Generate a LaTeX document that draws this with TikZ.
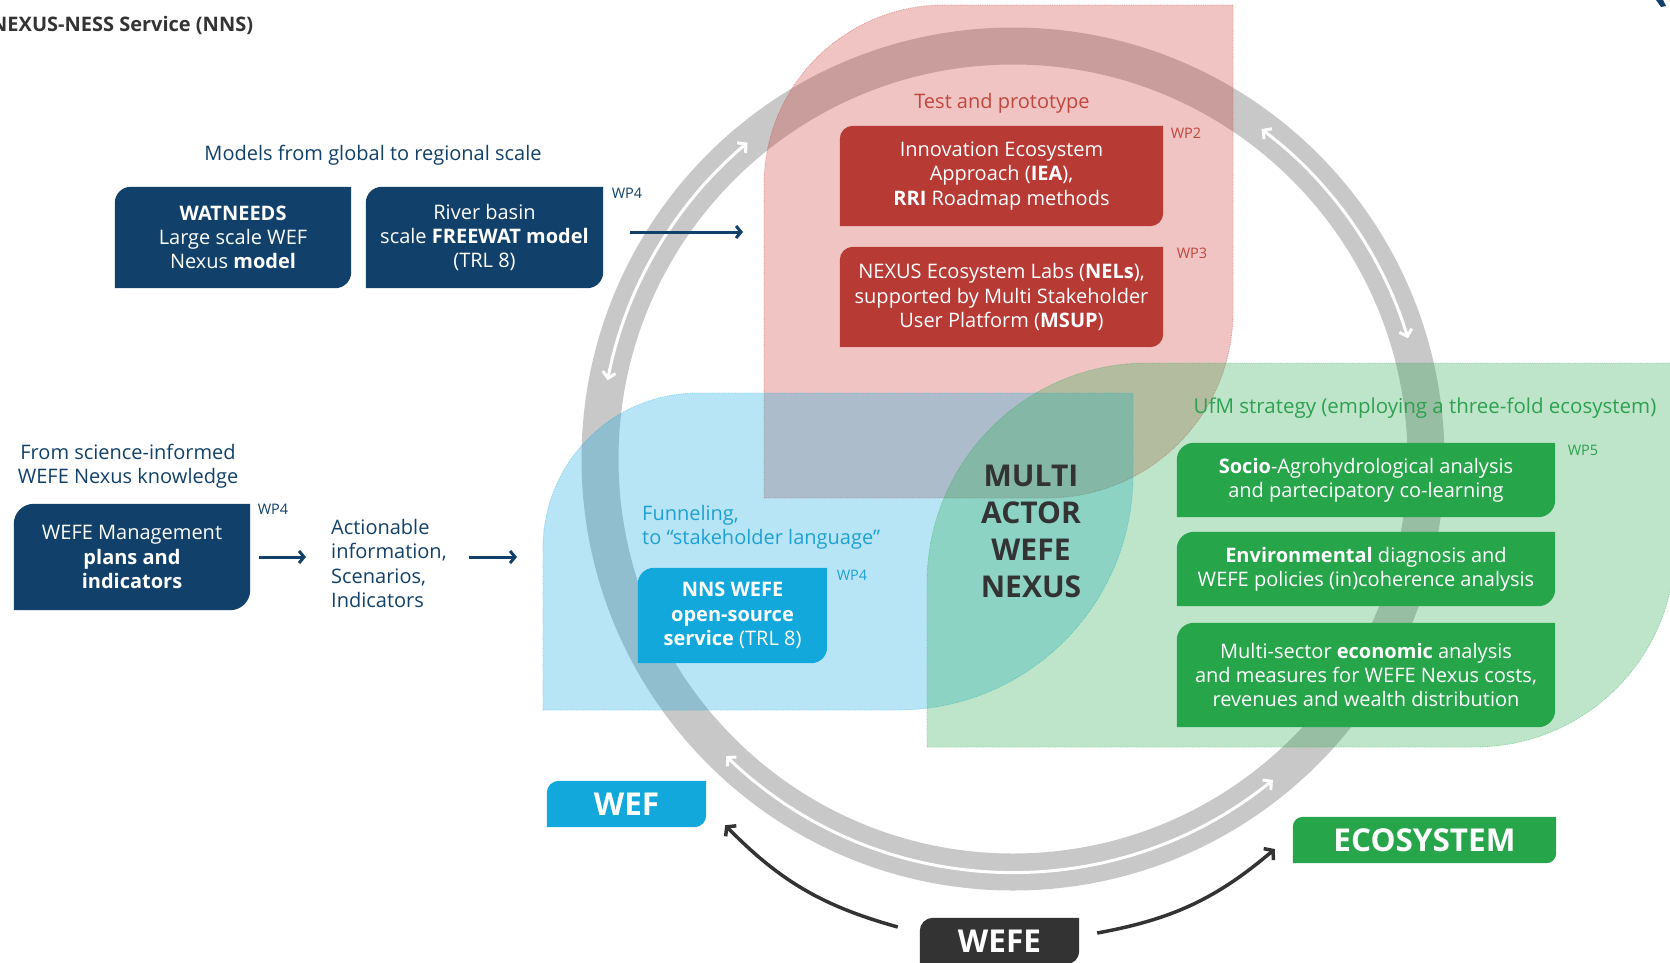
\documentclass[tikz,border=0pt]{standalone}
\usepackage{fontspec}
\setmainfont{Open Sans}
\usepackage{xcolor}
\usetikzlibrary{arrows.meta}

\definecolor{navy}{RGB}{17,65,106}
\definecolor{darkgray}{RGB}{51,51,51}
\definecolor{ringgray}{RGB}{200,200,200}
\definecolor{boxred}{RGB}{183,58,52}
\definecolor{redtext}{RGB}{192,70,62}
\definecolor{cyanbox}{RGB}{18,168,220}
\definecolor{cyantext}{RGB}{30,160,210}
\definecolor{greenbox}{RGB}{39,165,74}
\definecolor{greentext}{RGB}{46,160,80}
\definecolor{redzone}{RGB}{205,60,55}
\definecolor{bluezone}{RGB}{20,170,225}
\definecolor{greenzone}{RGB}{40,170,80}

\pgfdeclarelayer{back}
\pgfdeclarelayer{boxes}
\pgfsetlayers{back,boxes,main}

% fill behind a node, rounded top left and bottom right
\newcommand\leafbox[3]{%
  \begin{pgfonlayer}{boxes}
    \fill[#2] ([yshift=-#3pt]#1.north west) arc[start angle=180, end angle=90, radius=#3]
      -- (#1.north east) -- ([yshift=#3pt]#1.south east)
      arc[start angle=0, end angle=-90, radius=#3] -- (#1.south west) -- cycle;
  \end{pgfonlayer}}

\begin{document}
\begin{tikzpicture}[
        x=1pt, y=1pt,
        lbl/.style={font=\fontsize{20}{24.5}\selectfont, inner sep=0pt, align=center},
        boxtext/.style={text=white, font=\fontsize{20}{24.2}\selectfont, inner sep=0pt, align=center,
            execute at begin node={\rule{0pt}{20pt}}},
        wp/.style={font=\fontsize{14.5}{16}\selectfont, inner sep=0pt},
        tag/.style={text=white, font=\fontsize{31.5}{36}\selectfont\bfseries, inner sep=0pt},
        region/.style={fill=#1, fill opacity=0.3, draw=#1, draw opacity=0.45,
            densely dotted, line width=0.8pt},
        ringband/.style={draw=ringgray, line width=37pt},
        ringarrow/.style={white, line width=3pt,
            {Straight Barb[length=6pt,width=13pt]}-{Straight Barb[length=6pt,width=13pt]}},
        navyarrow/.style={navy, line width=3pt, -{Straight Barb[length=5pt,width=12pt]}},
        darkarrow/.style={darkgray, line width=3.5pt, -{Straight Barb[length=6pt,width=15pt]}},
    ]
    \useasboundingbox (0,0) rectangle (1670,-962);

    % ring and the three zones
    \coordinate (hub) at (1013,-459);
    \begin{pgfonlayer}{back}
    \draw[ringband] (hub) circle[radius=413];
    \foreach \a/\b in {130/169, 17/53, 226/309}
        \draw[ringarrow] ([shift={(\a:413)}]hub) arc[start angle=\a, end angle=\b, radius=413];
    \path[region=redzone] (764,-498) -- (764,-185) arc[start angle=180, end angle=90, radius=180]
        -- (1233,-5) -- (1233,-312) arc[start angle=0, end angle=-90, radius=186] -- cycle;
    \path[region=bluezone] (543,-710) -- (543,-548) arc[start angle=180, end angle=90, radius=155]
        -- (1133,-393) -- (1133,-475) arc[start angle=0, end angle=-90, radius=235] -- cycle;
    \path[region=greenzone] (927,-747) -- (927,-583) arc[start angle=180, end angle=90, radius=220]
        -- (1675,-363) -- (1675,-547) arc[start angle=0, end angle=-90, radius=200] -- cycle;
    \end{pgfonlayer}

    % title
    \node[anchor=west, inner sep=0pt, text=darkgray, font=\fontsize{20}{24}\selectfont\bfseries]
        (title) at (-9,-25) {NEXUS-NESS Service (NNS)};
    \fill[navy] (1656,0) -- (1663,0) -- (1666,-6) -- (1661,-7) -- cycle;

    % models
    \node[lbl, text=navy] (models) at (373,-155) {Models from global to regional scale};
    \node[boxtext, minimum width=236pt, minimum height=101pt] (watneeds) at (233,-237.5)
        {\textbf{WATNEEDS}\\Large scale WEF\\Nexus \textbf{model}};
    \leafbox{watneeds}{navy}{16}
    \node[boxtext, minimum width=237pt, minimum height=101pt] (river) at (484.5,-237.5)
        {River basin\\scale \textbf{FREEWAT model}\\(TRL 8)};
    \leafbox{river}{navy}{16}
    \node[wp, text=navy] (wpriver) at (627,-193) {WP4};
    \coordinate (riverend) at (743,-232);
    \draw[navyarrow] ([xshift=27pt,yshift=5.5pt]river.east) -- (riverend);

    % management
    \node[lbl, text=navy] (fromsci) at (128,-466) {From science-informed\\WEFE Nexus knowledge};
    \node[boxtext, minimum width=236pt, minimum height=106pt]
        (mgmt) at (132,-557) {WEFE Management\\\textbf{plans and}\\\textbf{indicators}};
    \leafbox{mgmt}{navy}{20}
    \node[wp, text=navy] (wpmgmt) at (273,-509) {WP4};
    \node[anchor=west, inner sep=0pt, align=left, text=navy, font=\fontsize{20}{24.2}\selectfont]
        (act) at (331,-563.5) {Actionable\\information,\\Scenarios,\\Indicators};
    \coordinate (actend) at (517,-557);
    \draw[navyarrow] ([xshift=9pt]mgmt.east) -- ([xshift=-25pt]act.west |- mgmt.east);
    \draw[navyarrow] ([xshift=22pt]act.east |- mgmt.east) -- (actend);

    % test and prototype
    \node[lbl, text=redtext] (testlbl) at (1002,-103) {Test and prototype};
    \node[boxtext, minimum width=323pt, minimum height=100pt] (iea) at (1001.5,-176)
        {Innovation Ecosystem\\Approach (\textbf{IEA}),\\\textbf{RRI} Roadmap methods};
    \leafbox{iea}{boxred}{13}
    \node[wp, text=redtext] (wpiea) at (1186,-133) {WP2};
    \node[boxtext, minimum width=323pt, minimum height=100pt] (nel) at (1001.5,-297)
        {NEXUS Ecosystem Labs (\textbf{NELs}),\\supported by Multi Stakeholder\\User Platform (\textbf{MSUP})};
    \leafbox{nel}{boxred}{13}
    \node[wp, text=redtext] (wpnel) at (1192,-253) {WP3};

    % funneling
    \node[anchor=west, inner sep=0pt, align=left, text=cyantext, font=\fontsize{20}{24}\selectfont]
        (funnel) at (642,-527) {Funneling,\\to “stakeholder language”};
    \node[boxtext, minimum width=189pt, minimum height=95pt] (nns) at (732.5,-615.5)
        {\textbf{NNS WEFE}\\\textbf{open-source}\\\textbf{service} (TRL 8)};
    \leafbox{nns}{cyanbox}{16}
    \node[wp, text=cyantext] (wpnns) at (852,-575) {WP4};

    % centre
    \node[inner sep=0pt, align=center, text=darkgray, font=\fontsize{30}{37}\selectfont\bfseries]
        (multi) at (1031,-531) {MULTI\\ACTOR\\WEFE\\NEXUS};

    % UfM strategy
    \node[lbl, text=greentext, font=\fontsize{20.5}{24}\selectfont] (ufm) at (1425,-408)
        {UfM strategy (employing a three-fold ecosystem)};
    \node[boxtext, minimum width=378pt, minimum height=74pt] (socio) at (1366,-480)
        {\textbf{Socio}-Agrohydrological analysis\\and partecipatory co-learning};
    \leafbox{socio}{greenbox}{17}
    \node[boxtext, minimum width=378pt, minimum height=74pt] (env) at (1366,-569)
        {\textbf{Environmental} diagnosis and\\WEFE policies (in)coherence analysis};
    \leafbox{env}{greenbox}{17}
    \node[boxtext, minimum width=378pt, minimum height=104pt] (econ) at (1366,-675)
        {Multi-sector \textbf{economic} analysis\\and measures for WEFE Nexus costs,\\revenues and wealth distribution};
    \leafbox{econ}{greenbox}{17}
    \node[wp, text=greentext] (wpsocio) at (1583,-450) {WP5};

    % bottom tags
    \node[tag, minimum width=159pt, minimum height=46pt] (wef) at (626.5,-804) {WEF};
    \leafbox{wef}{cyanbox}{12}
    \node[tag, minimum width=263pt, minimum height=46pt] (eco) at (1424.5,-840) {ECOSYSTEM};
    \leafbox{eco}{greenbox}{10}
    \node[tag, minimum width=159pt, minimum height=46pt] (wefe) at (999.5,-941) {WEFE};
    \leafbox{wefe}{darkgray}{13}

    \draw[darkarrow] ([xshift=-22pt,yshift=14pt]wefe.west) to[bend left=15]
        ([xshift=19pt,yshift=2pt]wef.south east);
    \draw[darkarrow] ([xshift=18pt,yshift=8pt]wefe.east) to[bend right=15]
        ([xshift=-18pt,yshift=-9pt]eco.west);
\end{tikzpicture}
\end{document}
